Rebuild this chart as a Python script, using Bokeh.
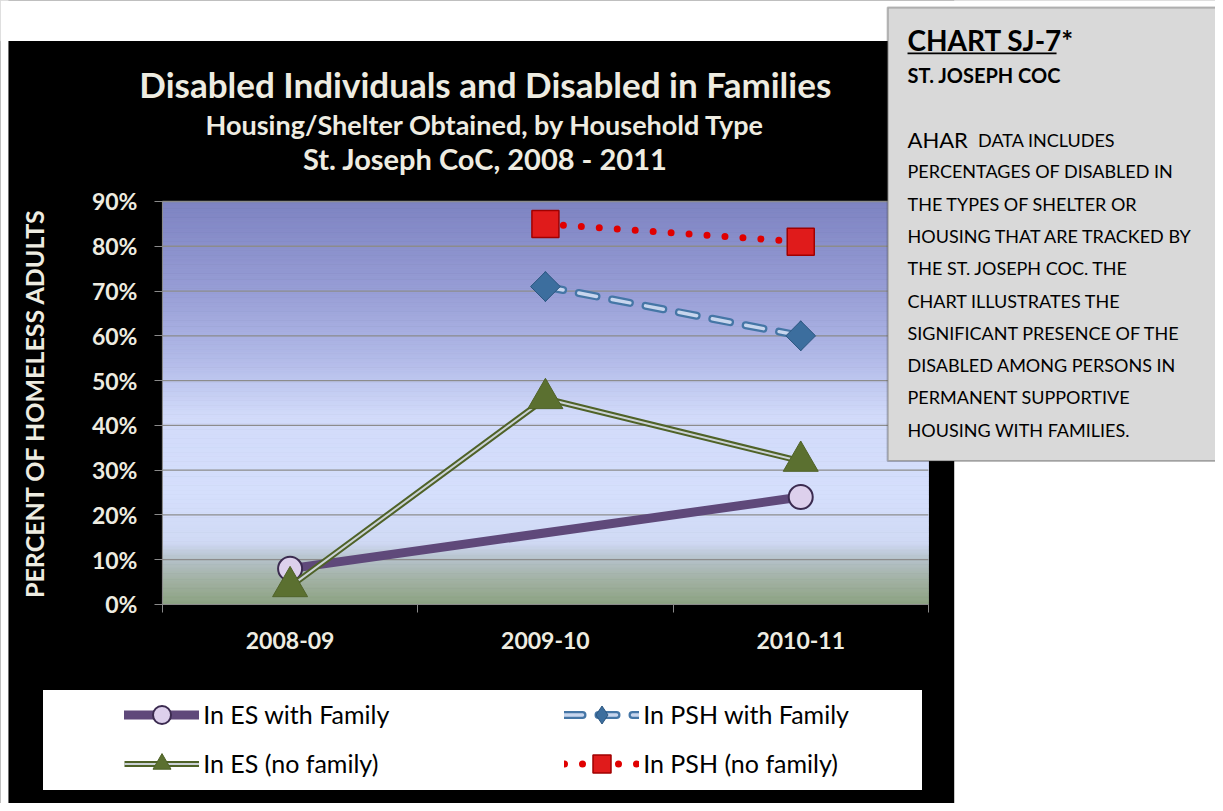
import numpy as np
from bokeh.plotting import figure
from bokeh.models import (Range1d, FixedTicker, PrintfTickFormatter, BoxAnnotation,
                          Label, Legend, LegendItem)
from bokeh.embed import file_html
from bokeh.resources import INLINE

# ---------------- data ----------------
categories = ["2008-09", "2009-10", "2010-11"]
es_family = [8, None, 24]        # In ES with Family
psh_family = [None, 71, 60]      # In PSH with Family
es_nofamily = [4, 46, 32]        # In ES (no family)
psh_nofamily = [None, 85, 81]    # In PSH (no family)
y_ticks = [0, 10, 20, 30, 40, 50, 60, 70, 80, 90]

title_lines = ["Disabled Individuals and Disabled in Families",
               "Housing/Shelter Obtained, by Household Type",
               "St. Joseph CoC, 2008 - 2011"]
box_title = "CHART SJ-7*"
box_subtitle = "ST. JOSEPH COC"
box_first = ("AHAR", "DATA INCLUDES")
box_lines = ["PERCENTAGES OF DISABLED IN",
             "THE TYPES OF SHELTER OR",
             "HOUSING THAT ARE TRACKED BY",
             "THE ST. JOSEPH COC.  THE",
             "CHART ILLUSTRATES THE",
             "SIGNIFICANT PRESENCE OF THE",
             "DISABLED AMONG PERSONS IN",
             "PERMANENT SUPPORTIVE",
             "HOUSING WITH FAMILIES."]

# ---------------- layout helpers ----------------
W, H = 1215, 803
RW, RH = 1223, 811
KX, KY = W / RW, H / RH
def cx(rx):   # reference px -> screen x
    return rx * KX
def sy(ry):   # reference px -> screen y (up from bottom)
    return H - ry * KY

PL, PR, PT, PB = 163, 934, 203, 610   # plot area in reference px
ncat = len(categories)
ymin, ymax = y_ticks[0], y_ticks[-1]
xs_px = (cx(PR) - cx(PL)) / ncat
ys_px = (sy(PT) - sy(PB)) / (ymax - ymin)
x_range = Range1d(-cx(PL) / xs_px, ncat + (W - cx(PR)) / xs_px)
y_range = Range1d(ymin - sy(PB) / ys_px, ymax + (H - sy(PT)) / ys_px)

TXT = "#eeece1"
FONT = "Lato"

xpos = {c: i + 0.5 for i, c in enumerate(categories)}

def pts(vals):
    xs = [xpos[c] for c, v in zip(categories, vals) if v is not None]
    ys = [v for v in vals if v is not None]
    return xs, ys

p = figure(width=W, height=H, x_range=x_range, y_range=y_range,
           output_backend="svg", toolbar_location=None, title=None,
           min_border=0, min_border_left=0, min_border_right=0,
           min_border_top=0, min_border_bottom=0,
           border_fill_color="black", background_fill_color="black",
           outline_line_color=None)
p.grid.visible = False

# gradient plot area
stops = [(0, (140, 162, 130)), (5, (160, 176, 160)), (10, (180, 193, 200)),
         (14, (208, 218, 245)), (25, (213, 223, 252)), (42, (210, 219, 250)),
         (55, (178, 186, 232)), (70, (152, 158, 214)), (90, (126, 132, 194))]
sv = np.array([s[0] for s in stops], dtype=float)
sc = np.array([s[1] for s in stops], dtype=float)
edges = np.linspace(ymin, ymax, 181)
mids = (edges[:-1] + edges[1:]) / 2
cols = ["#%02x%02x%02x" % tuple(int(round(np.interp(m, sv, sc[:, k]))) for k in range(3)) for m in mids]
p.quad(left=0, right=ncat, bottom=edges[:-1], top=edges[1:],
       fill_color=cols, line_color=cols, line_width=1)

# horizontal gridlines
p.segment(x0=0, x1=ncat, y0=y_ticks[1:], y1=y_ticks[1:], line_color="#8c8c8c", line_width=1.3)

# axes (placed at the plot area's edges)
p.yaxis.fixed_location = 0
p.yaxis.bounds = (ymin, ymax)
p.yaxis.ticker = FixedTicker(ticks=y_ticks)
p.yaxis.formatter = PrintfTickFormatter(format="%d%%")
p.yaxis.axis_line_color = "#8a8a8a"
p.yaxis.major_tick_line_color = "#8a8a8a"
p.yaxis.major_tick_out = 8
p.yaxis.major_tick_in = 0
p.yaxis.minor_tick_line_color = None
p.yaxis.major_label_standoff = 17
p.yaxis.major_label_text_font = FONT
p.yaxis.major_label_text_font_style = "bold"
p.yaxis.major_label_text_font_size = "23px"
p.yaxis.major_label_text_color = TXT
p.yaxis.axis_label = "PERCENT OF HOMELESS ADULTS"
p.yaxis.axis_label_text_font = FONT
p.yaxis.axis_label_text_font_style = "bold"
p.yaxis.axis_label_text_font_size = "25px"
p.yaxis.axis_label_text_color = TXT
p.yaxis.axis_label_standoff = 40

p.xaxis.fixed_location = ymin
p.xaxis.bounds = (0, ncat)
p.xaxis.ticker = FixedTicker(ticks=[xpos[c] for c in categories],
                             minor_ticks=list(range(ncat + 1)))
p.xaxis.major_label_overrides = {xpos[c]: c for c in categories}
p.xaxis.axis_line_color = "#8a8a8a"
p.xaxis.major_tick_line_color = None
p.xaxis.major_tick_out = 0
p.xaxis.major_tick_in = 0
p.xaxis.minor_tick_line_color = "#8a8a8a"
p.xaxis.minor_tick_out = 8
p.xaxis.minor_tick_in = 0
p.xaxis.major_label_standoff = 20
p.xaxis.major_label_text_font = FONT
p.xaxis.major_label_text_font_style = "bold"
p.xaxis.major_label_text_font_size = "23px"
p.xaxis.major_label_text_color = TXT

# ---------------- series ----------------
x, y = pts(es_family)
r1a = p.line(x, y, line_color="#5f497a", line_width=9, line_cap="round")
r1b = p.scatter(x, y, marker="circle", size=24, fill_color="#ddd0ec",
                line_color="#3b2b50", line_width=2)

x, y = pts(psh_family)
r2a = p.line(x, y, line_color="#4576a6", line_width=8, line_dash="18 16", line_cap="round")
r2b = p.line(x, y, line_color="#c8d6ee", line_width=3.5, line_dash="18 16", line_cap="round")
r2d = p.scatter(x, y, marker="diamond", size=30, fill_color="#3c6e9e",
                line_color="#2c5680", line_width=1)   # symbol used by the legend
r2c = p.scatter(x, y, marker="square", angle=np.pi / 4, size=21, fill_color="#3c6e9e",
                line_color="#2c5680", line_width=1)

x, y = pts(es_nofamily)
r3a = p.line(x, y, line_color="#4f6228", line_width=6)
r3b = p.line(x, y, line_color="#e0e6f5", line_width=2, line_alpha=0.85)
r3c = p.scatter(x, y, marker="triangle", size=35, fill_color="#5b7030",
                line_color="#4f6228", line_width=1)

x, y = pts(psh_nofamily)
r4a = p.line(x, y, line_color="#e00000", line_width=7, line_dash="0 18", line_cap="round")
r4b = p.scatter(x, y, marker="square", size=27, fill_color="#e01b1b",
                line_color="#a00000", line_width=1.5)

# ---------------- legend ----------------
dummy = p.line([], [], line_alpha=0)
bg_leg = Legend(items=[LegendItem(label=" ", renderers=[dummy])],
                location=(cx(43), sy(798)), padding=0, margin=0, spacing=0,
                glyph_width=1, glyph_height=int((798 - 697) * KY), label_standoff=0,
                label_width=int(cx(928) - cx(43)) - 1, label_height=int((798 - 697) * KY),
                label_text_font_size="2px",
                background_fill_color="white", background_fill_alpha=1,
                border_line_alpha=0)
p.add_layout(bg_leg)

row_h = 45
leg = Legend(items=[LegendItem(label="In ES with Family", renderers=[r1a, r1b]),
                    LegendItem(label="In PSH with Family", renderers=[r2a, r2b, r2d]),
                    LegendItem(label="In ES (no family)", renderers=[r3a, r3b, r3c]),
                    LegendItem(label="In PSH (no family)", renderers=[r4a, r4b])],
             orientation="horizontal", ncols=2,
             location=(cx(125) - 4, sy(771) - row_h / 2 - 4), padding=4, margin=0, spacing=4,
             glyph_width=75, glyph_height=row_h, label_standoff=4,
             label_width=int(cx(568) - cx(125)) - 75 - 4 - 4, label_height=row_h,
             label_text_font=FONT, label_text_font_size="25px", label_text_color="black",
             background_fill_alpha=0, border_line_alpha=0)
p.add_layout(leg)

# ---------------- titles ----------------
for txt, yy, fs in zip(title_lines, [84, 125, 160], ["35px", "27px", "29px"]):
    p.add_layout(Label(x=cx(488), y=sy(yy), x_units="screen", y_units="screen", text=txt,
                       text_font=FONT, text_font_style="bold", text_font_size=fs,
                       text_color=TXT, text_align="center", text_baseline="middle"))

# ---------------- white surround + note box ----------------
def sbox(**kw):
    return BoxAnnotation(left_units="screen", right_units="screen",
                         top_units="screen", bottom_units="screen", **kw)

p.add_layout(sbox(left=-10, right=W + 10, top=H + 10, bottom=sy(41),
                  fill_color="white", fill_alpha=1, line_alpha=0, level="overlay"))
p.add_layout(sbox(left=-10, right=cx(8), top=H + 10, bottom=-10,
                  fill_color="white", fill_alpha=1, line_alpha=0, level="overlay"))
p.add_layout(sbox(left=cx(960), right=W + 10, top=H + 10, bottom=-10,
                  fill_color="white", fill_alpha=1, line_alpha=0, level="overlay"))
p.add_layout(sbox(left=cx(893), right=W + 20, top=sy(7), bottom=sy(465),
                  fill_color="#d9d9d9", fill_alpha=1, line_color="#222222",
                  line_width=2, level="overlay"))
p.add_layout(Label(x=cx(913), y=sy(40), x_units="screen", y_units="screen", text=box_title,
                   text_font=FONT, text_font_style="bold", text_font_size="28px",
                   text_color="black", text_baseline="middle", level="overlay"))
p.add_layout(sbox(left=cx(913), right=cx(1063), top=sy(52.5), bottom=sy(54.3),
                  fill_color="black", fill_alpha=1, line_alpha=0, level="overlay"))
p.add_layout(Label(x=cx(913), y=sy(75), x_units="screen", y_units="screen", text=box_subtitle,
                   text_font=FONT, text_font_style="bold", text_font_size="20px",
                   text_color="black", text_baseline="middle", level="overlay"))
p.add_layout(Label(x=cx(913), y=sy(140), x_units="screen", y_units="screen",
                   text=box_first[0], text_font=FONT, text_font_size="22px",
                   text_color="black", text_baseline="middle", level="overlay"))
p.add_layout(Label(x=cx(984), y=sy(141), x_units="screen", y_units="screen",
                   text=box_first[1], text_font=FONT, text_font_size="18px",
                   text_color="black", text_baseline="middle", level="overlay"))
for i, t in enumerate(box_lines):
    p.add_layout(Label(x=cx(913), y=sy(140 + (i + 1) * 32.6), x_units="screen", y_units="screen",
                       text=t, text_font=FONT, text_font_size="18px",
                       text_color="black", text_baseline="middle", level="overlay"))

open("out.html", "w").write(file_html(p, INLINE))
